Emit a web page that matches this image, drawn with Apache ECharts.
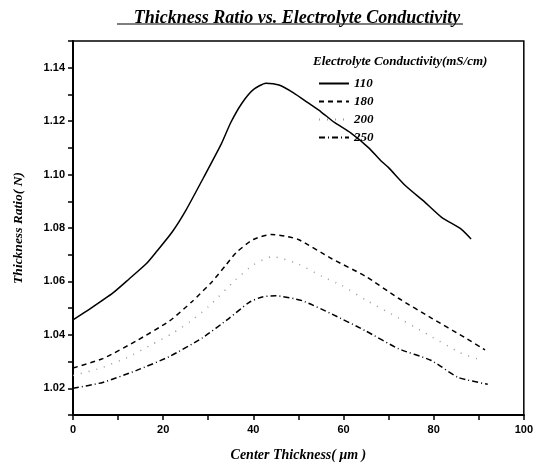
<!DOCTYPE html>
<html>
<head>
<meta charset="utf-8">
<script src="https://cdn.jsdelivr.net/npm/echarts@6/dist/echarts.min.js"></script>
<style>
  html, body { margin: 0; padding: 0; background: #fff; }
  #chart { width: 536px; height: 467px; }
</style>
</head>
<body>
<div id="chart"></div>
<script>
// series names (conductivity, mS/cm)
const seriesNames = ['110', '180', '200', '250']

// center thickness (um) / thickness ratio
const x110 = [0, 4, 8.8, 12.5, 16.3, 18.5, 22, 25, 29, 32.9, 35, 37.5, 40, 42.8, 45.7, 49, 52, 55, 58, 61.6, 65.6, 68.4, 70, 73.7, 78.1, 81.7, 86.1, 88.3]
const y110 = [1.0456, 1.0500, 1.0556, 1.0610, 1.0667, 1.0711, 1.0785, 1.0865, 1.0990, 1.1115, 1.1195, 1.1268, 1.1318, 1.1342, 1.1335, 1.1305, 1.1270, 1.1235, 1.1195, 1.1156, 1.1100, 1.1050, 1.1026, 1.0959, 1.0896, 1.0841, 1.0796, 1.0759]

const x180 = [0, 6.6, 14.1, 21.4, 26.5, 30.9, 34, 36.2, 40, 44, 47, 50.1, 57.4, 64.9, 72.2, 79.5, 87, 91.4]
const y180 = [1.0276, 1.0311, 1.0378, 1.0452, 1.0526, 1.0600, 1.0663, 1.0708, 1.0757, 1.0776, 1.0770, 1.0756, 1.0685, 1.0619, 1.0537, 1.0463, 1.0389, 1.0344]

const x200 = [0, 6, 12, 17.4, 22, 26, 30, 36, 40, 44.2, 50, 55.2, 59.6, 65, 71.5, 77.7, 85.9, 90.3]
const y200 = [1.0248, 1.0275, 1.0315, 1.0363, 1.0405, 1.0450, 1.0505, 1.0605, 1.0662, 1.0693, 1.0665, 1.0619, 1.0585, 1.0530, 1.0470, 1.0411, 1.0333, 1.0307]

const x250 = [0, 6.6, 14.1, 21.4, 28.7, 34.7, 39.1, 42, 45, 50.8, 57.4, 64.9, 72.2, 79.5, 85.4, 92]
const y250 = [1.0200, 1.0222, 1.0267, 1.0319, 1.0389, 1.0463, 1.0522, 1.0542, 1.0546, 1.0528, 1.0478, 1.0415, 1.0348, 1.0304, 1.0241, 1.0215]

const xs = [x110, x180, x200, x250]
const ys = [y110, y180, y200, y250]

const serif = 'Liberation Serif'
const sans = 'Liberation Sans'

// line looks per series
const lineTypes = ['solid', [5, 4], [1, 7], [6, 3, 1, 3]]
const lineColors = ['#000', '#000', '#999', '#000']

const myChart = echarts.init(document.getElementById('chart'))

const series = seriesNames.map((name, i) => ({
  name: name,
  type: 'line',
  symbol: 'none',
  smooth: 0.2,
  data: xs[i].map((x, j) => [x, ys[i][j]]),
  lineStyle: {
    color: lineColors[i],
    width: 1.5,
    type: lineTypes[i]
  },
  itemStyle: { color: lineColors[i] }
}))

const option = {
  animation: false,
  backgroundColor: '#fff',
  title: {
    text: 'Thickness Ratio vs. Electrolyte Conductivity',
    left: 292,
    top: 4,
    textAlign: 'center',
    textStyle: {
      fontFamily: serif,
      fontStyle: 'italic',
      fontWeight: 'bold',
      fontSize: 18,
      color: '#000'
    }
  },
  graphic: [
    // title underline
    {
      type: 'line',
      shape: { x1: 117, y1: 24, x2: 463, y2: 24 },
      style: { stroke: '#000', lineWidth: 1.2 }
    },
    // legend heading
    {
      type: 'text',
      left: 313,
      top: 55,
      style: {
        text: 'Electrolyte Conductivity(mS/cm)',
        font: 'italic bold 13px "Liberation Serif"',
        fill: '#000'
      }
    }
  ],
  legend: {
    orient: 'vertical',
    left: 313,
    top: 72,
    itemWidth: 30,
    itemHeight: 14,
    itemGap: 5,
    data: seriesNames,
    itemStyle: { opacity: 0 },
    textStyle: {
      fontFamily: serif,
      fontStyle: 'italic',
      fontWeight: 'bold',
      fontSize: 13,
      color: '#000'
    }
  },
  grid: {
    left: 73,
    right: 10,
    top: 41,
    bottom: 51,
    show: true,
    borderColor: '#000',
    borderWidth: 1.5
  },
  xAxis: {
    type: 'value',
    min: 0,
    max: 100,
    interval: 10,
    name: 'Center Thickness( μm )',
    nameLocation: 'middle',
    nameGap: 33,
    nameTextStyle: {
      fontFamily: serif,
      fontStyle: 'italic',
      fontWeight: 'bold',
      fontSize: 14,
      color: '#000'
    },
    splitLine: { show: false },
    axisLine: { lineStyle: { color: '#000', width: 2 } },
    axisTick: { length: 5, lineStyle: { color: '#000', width: 1.5 } },
    axisLabel: {
      color: '#000',
      fontFamily: sans,
      fontWeight: 'bold',
      fontSize: 11,
      margin: 9,
      formatter(val) {
        return val % 20 === 0 ? String(val) : ''
      }
    }
  },
  yAxis: {
    type: 'value',
    min: 1.01,
    max: 1.15,
    interval: 0.01,
    name: 'Thickness Ratio( N)',
    nameLocation: 'middle',
    nameGap: 47,
    nameTextStyle: {
      fontFamily: serif,
      fontStyle: 'italic',
      fontWeight: 'bold',
      fontSize: 13.5,
      color: '#000'
    },
    splitLine: { show: false },
    axisLine: { lineStyle: { color: '#000', width: 2 } },
    axisTick: { length: 5, lineStyle: { color: '#000', width: 1.5 } },
    axisLabel: {
      color: '#000',
      fontFamily: sans,
      fontWeight: 'bold',
      fontSize: 11,
      margin: 8,
      formatter(val) {
        const h = Math.round(val * 100)
        return h % 2 === 0 ? (h / 100).toFixed(2) : ''
      }
    }
  },
  series: series
}

myChart.setOption(option)
</script>
</body>
</html>
